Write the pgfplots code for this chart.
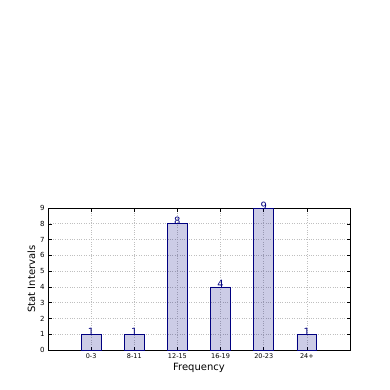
\documentclass[border=0pt]{standalone}
\usepackage{pgfplots}
\pgfplotsset{compat=1.18}
\usepackage{fontspec}
\setmainfont{DejaVu Sans}
\definecolor{barnavy}{RGB}{0,0,128}
\begin{document}
\begin{tikzpicture}[x=1bp,y=1bp]
\useasboundingbox (0,0) rectangle (390,390);
\begin{axis}[
  at={(48bp,40bp)}, anchor=south west,
  scale only axis, width=302bp, height=142bp,
  xmin=-1, xmax=6, ymin=0, ymax=9,
  xtick={0,1,2,3,4,5},
  xticklabels={0-3,8-11,12-15,16-19,20-23,24+},
  ytick={0,1,2,3,4,5,6,7,8,9},
  tick align=inside,
  major tick length=3.5bp,
  tick style={black, line width=0.5pt},
  grid=major,
  grid style={gray!50, dash pattern=on 0.8pt off 1.6pt, line width=0.7pt},
  axis line style={black, line width=0.8pt},
  xticklabel style={font=\fontsize{6.5bp}{7bp}\selectfont},
  yticklabel style={font=\fontsize{7bp}{8bp}\selectfont},
  /pgf/number format/assume math mode=true,
  xlabel={Frequency}, ylabel={Stat Intervals},
  label style={font=\fontsize{10bp}{12bp}\selectfont},
  xlabel style={yshift=2bp},
  ylabel style={yshift=-2bp},
  nodes near coords,
  every node near coord/.append style={font=\fontsize{10bp}{11bp}\selectfont, text=barnavy, fill opacity=1, text opacity=1, draw opacity=1, anchor=base, yshift=-1bp},
]
\addplot[ybar, bar width=0.46, draw=barnavy, fill=barnavy, fill opacity=0.2, line width=0.6pt] coordinates {
(0,1) (1,1) (2,8) (3,4) (4,9) (5,1)
};
\end{axis}
\end{tikzpicture}
\end{document}
